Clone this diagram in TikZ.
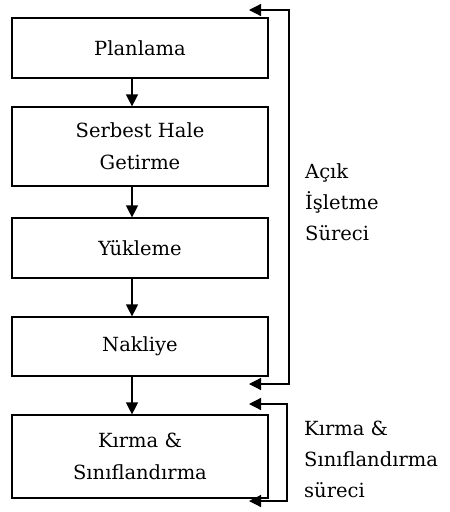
\documentclass[tikz,border=0pt]{standalone}
\usepackage{fontspec}
\setmainfont{DejaVu Serif}
\usetikzlibrary{arrows.meta}
\tikzset{
  tip/.style={Triangle[length=12pt,width=12pt]},
  stepbox/.style={draw, line width=1.2pt, fill=white, minimum width=256pt,
    inner sep=0pt, align=center, font=\fontsize{19.5}{32}\selectfont},
  flow/.style={line width=1.2pt, -{Triangle[length=12pt,width=12pt]}},
  loop/.style={line width=1.2pt, {Triangle[length=12pt,width=12pt]}-{Triangle[length=12pt,width=12pt]}},
  side/.style={anchor=base west, inner sep=0pt, font=\fontsize{19.5}{32}\selectfont}
}
\begin{document}
\begin{tikzpicture}[x=1pt,y=-1pt]
\useasboundingbox (0,0) rectangle (450,512);
% process boxes
\node[stepbox, minimum height=60pt] (plan) at (140,48) {Planlama};
\node[stepbox, minimum height=79pt] (serb) at (140,146.5) {Serbest Hale\\Getirme};
\node[stepbox, minimum height=60pt] (yuk) at (140,248) {Yükleme};
\node[stepbox, minimum height=59pt] (nak) at (140,346.5) {Nakliye};
\node[stepbox, minimum height=83pt] (kir) at (140,456.5) {Kırma \&\\Sınıflandırma};
% downward flow
\draw[flow] ([xshift=-8pt]plan.south) -- ([xshift=-8pt]serb.north);
\draw[flow] ([xshift=-8pt]serb.south) -- ([xshift=-8pt]yuk.north);
\draw[flow] ([xshift=-8pt]yuk.south) -- ([xshift=-8pt]nak.north);
\draw[flow] ([xshift=-8pt]nak.south) -- ([xshift=-8pt]kir.north);
% feedback brackets
\coordinate (openTop) at (249,10);
\coordinate (openBot) at (249,384);
\coordinate (crushTop) at (249,404);
\coordinate (crushBot) at (249,501);
\draw[loop] (openTop) -- (289,10) -- (289,384) -- (openBot);
\draw[loop] (crushTop) -- (287,404) -- (287,501) -- (crushBot);
% bracket labels
\node[side] (acik1) at (305,178) {Açık};
\node[side] (acik2) at (305,209) {İşletme};
\node[side] (acik3) at (305,240) {Süreci};
\node[side] (kirma1) at (304,435) {Kırma \&};
\node[side] (kirma2) at (304,466) {Sınıflandırma};
\node[side] (kirma3) at (304,497) {süreci};
\end{tikzpicture}
\end{document}
